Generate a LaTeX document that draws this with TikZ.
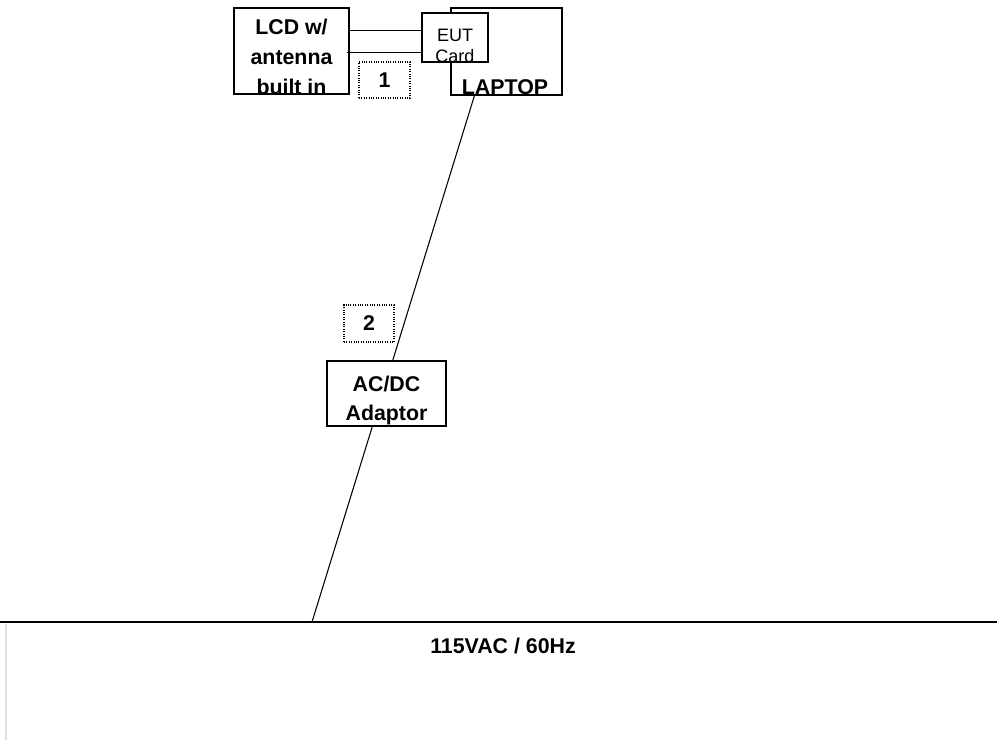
\documentclass[tikz,border=0pt]{standalone}
\usepackage{fontspec}
\setmainfont{Liberation Sans}
\usetikzlibrary{calc}

\begin{document}
\begin{tikzpicture}[
  x=0.75pt, y=-0.75pt, line width=0.8pt,
  unit/.style={draw, fill=white, inner sep=0pt},
  tagbox/.style={draw, densely dotted, inner sep=0pt, font=\bfseries\fontsize{16}{19}\selectfont},
  caption/.style={align=center, inner sep=0pt, anchor=base}
]
\useasboundingbox (0,0) rectangle (997,740);

% equipment
\node[unit, minimum width=83.25pt, minimum height=65.25pt] (laptop) at (506.5,51.5) {};
\node[unit, minimum width=86.25pt, minimum height=64.5pt] (lcd) at (291.5,51) {};
\node[caption, font=\bfseries\fontsize{16}{22.5}\selectfont] (lcdtxt) at (291.5,94) {LCD w/\\antenna\\built in};
\node[caption, font=\bfseries\fontsize{16}{19}\selectfont] (laptoptxt) at (505,94) {LAPTOP};

% power cord, under the adaptor
\coordinate (lapout) at ($(laptop.south west)+(24,0)$);
\coordinate (plug) at (312,622);
\draw (lapout) -- (plug);

\node[unit, minimum width=49.5pt, minimum height=36.75pt] (eut) at (455,37.5) {};
\node[caption, font=\fontsize{13.5}{15.75}\selectfont] (euttxt) at (455,62) {EUT\\Card};
\node[unit, minimum width=89.25pt, minimum height=48.75pt] (adaptor) at (386.5,393.5) {};
\node[caption, font=\bfseries\fontsize{16}{21.75}\selectfont] (adaptortxt) at (386.5,420) {AC/DC\\Adaptor};

% cables LCD -> EUT card
\draw ($(lcd.north east)+(0,23)$) -- ($(eut.north west)+(0,18)$);
\draw ($(lcd.north east)+(-3,45)$) -- ($(eut.north west)+(0,40)$);

% cable tags
\node[tagbox, minimum width=38.25pt, minimum height=27pt] (tag1) at (384.5,80) {1};
\node[tagbox, minimum width=37.5pt, minimum height=27.75pt] (tag2) at (369,323.5) {2};

% mains
\coordinate (mainsL) at (0,622);
\coordinate (mainsR) at (997,622);
\draw (mainsL) -- (mainsR);
\draw[gray!25] (6,624) -- (6,740);
\node[caption, font=\bfseries\fontsize{16}{19}\selectfont] (mainstxt) at (503,653) {115VAC / 60Hz};
\end{tikzpicture}
\end{document}
